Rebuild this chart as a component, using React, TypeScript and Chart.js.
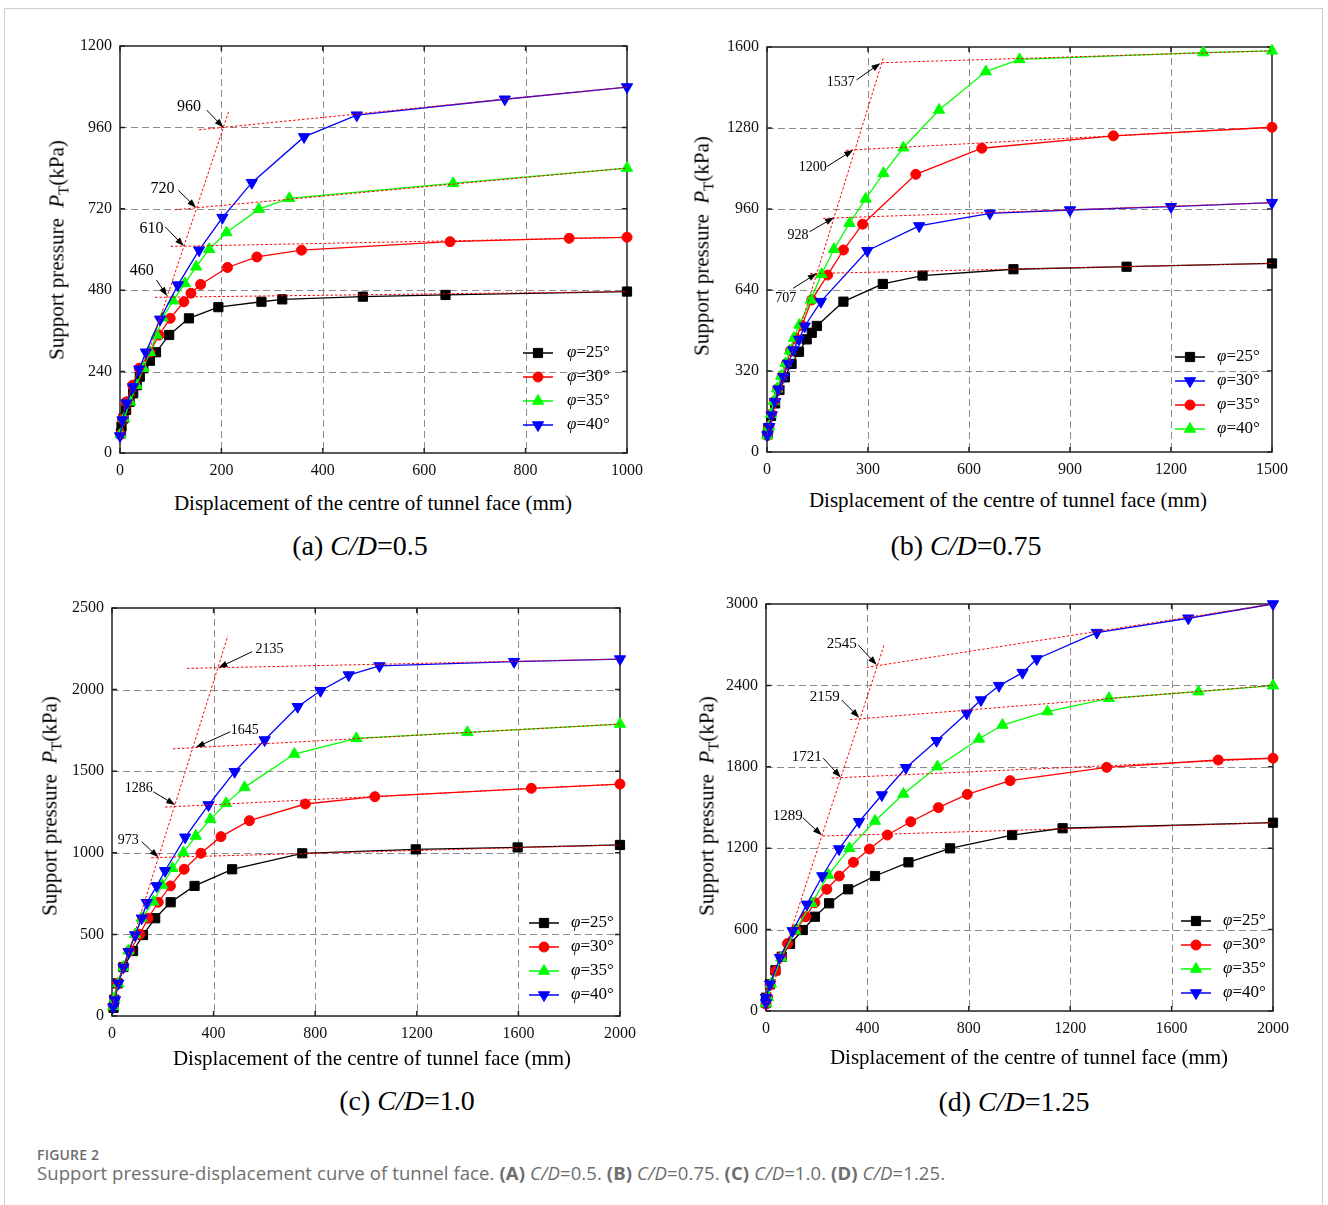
import React, { useEffect, useRef } from "react";
import { Chart, registerables } from "chart.js";

Chart.register(...registerables);

type Pt = [number, number];
type Note = { text: string; at: Pt; from: Pt; to: Pt };

const SERIF = '"Liberation Serif", "Times New Roman", serif';
const SANS = '"Open Sans", "Noto Sans", sans-serif';

// ---------- (a) C/D = 0.5 ----------
const xTicksA = [0, 200, 400, 600, 800, 1000];
const yTicksA = [0, 240, 480, 720, 960, 1200];
const a25: Pt[] = [[2, 58], [3, 78], [7, 102], [12, 127], [19, 151], [26, 176], [33, 200], [39, 225], [46, 250], [59, 272], [71, 297], [97, 348], [136, 397], [194, 430], [279, 446], [320, 453], [479, 461], [642, 466], [1000, 476]];
const a30: Pt[] = [[1, 55], [5, 100], [12, 150], [25, 200], [38, 250], [59, 297], [77, 348], [99, 397], [126, 446], [140, 471], [159, 497], [212, 547], [270, 578], [358, 598], [651, 623], [886, 633], [1000, 636]];
const a35: Pt[] = [[1, 55], [8, 102], [20, 151], [33, 200], [46, 250], [59, 297], [72, 348], [84, 399], [105, 449], [128, 500], [150, 549], [176, 601], [210, 650], [274, 719], [334, 751], [657, 795], [1000, 840]];
const a40: Pt[] = [[0, 50], [5, 97], [13, 147], [26, 195], [38, 247], [51, 297], [79, 394], [114, 495], [156, 598], [202, 694], [260, 797], [363, 932], [467, 996], [759, 1043], [1000, 1079]];
const guidesA: Pt[][] = [
  [[0, 42], [215, 1010]],
  [[156, 953], [1000, 1079]],
  [[108, 717], [1000, 840]],
  [[100, 609], [1000, 636]],
  [[69, 459], [1000, 476]],
];
const notesA: Note[] = [
  { text: "960", at: [136, 1021], from: [171, 1011], to: [204, 960] },
  { text: "720", at: [84, 780], from: [115, 775], to: [150, 723] },
  { text: "610", at: [62, 662], from: [89, 667], to: [126, 610] },
  { text: "460", at: [43, 537], from: [72, 510], to: [93, 463] },
];

// ---------- (b) C/D = 0.75 ----------
const xTicksB = [0, 300, 600, 900, 1200, 1500];
const yTicksB = [0, 320, 640, 960, 1280, 1600];
const b25: Pt[] = [[2, 70], [4, 94], [12, 142], [24, 192], [37, 245], [53, 295], [73, 348], [95, 396], [118, 445], [133, 471], [148, 498], [227, 594], [344, 664], [462, 697], [732, 722], [1068, 732], [1500, 745]];
const b30: Pt[] = [[1, 67], [7, 100], [14, 146], [24, 199], [34, 248], [49, 297], [63, 350], [78, 403], [95, 445], [112, 497], [160, 594], [298, 795], [452, 893], [662, 943], [900, 956], [1200, 969], [1500, 985]];
const b35: Pt[] = [[1, 65], [6, 100], [13, 150], [22, 200], [32, 250], [45, 300], [58, 350], [70, 400], [85, 450], [104, 500], [133, 601], [180, 699], [227, 798], [284, 900], [442, 1097], [638, 1200], [1029, 1249], [1500, 1283]];
const b40: Pt[] = [[1, 65], [6, 100], [12, 150], [20, 200], [30, 250], [42, 300], [55, 350], [68, 400], [80, 450], [96, 502], [130, 601], [162, 702], [199, 801], [245, 904], [293, 1000], [346, 1101], [405, 1202], [511, 1351], [650, 1503], [750, 1551], [1296, 1578], [1500, 1585]];
const guidesB: Pt[][] = [
  [[0, 68], [346, 1559]],
  [[341, 1538], [1500, 1585]],
  [[235, 1192], [1500, 1283]],
  [[167, 923], [1500, 985]],
  [[128, 705], [1500, 745]],
];
const notesB: Note[] = [
  { text: "1537", at: [219, 1460], from: [266, 1470], to: [337, 1536] },
  { text: "1200", at: [136, 1125], from: [177, 1127], to: [256, 1193] },
  { text: "928", at: [92, 857], from: [126, 870], to: [199, 926] },
  { text: "707", at: [56, 608], from: [78, 647], to: [148, 706] },
];

// ---------- (c) C/D = 1.0 ----------
const xTicksC = [0, 400, 800, 1200, 1600, 2000];
const yTicksC = [0, 500, 1000, 1500, 2000, 2500];
const c25: Pt[] = [[6, 50], [9, 100], [22, 200], [45, 300], [83, 398], [122, 496], [170, 599], [231, 697], [325, 797], [473, 899], [749, 997], [1196, 1021], [1597, 1033], [2000, 1048]];
const c30: Pt[] = [[5, 60], [10, 100], [22, 200], [45, 300], [70, 400], [110, 501], [142, 599], [182, 697], [230, 797], [284, 899], [350, 997], [429, 1099], [541, 1197], [761, 1299], [1035, 1344], [1651, 1395], [2000, 1421]];
const c35: Pt[] = [[5, 60], [10, 110], [25, 200], [45, 300], [65, 400], [91, 500], [117, 600], [163, 700], [198, 803], [238, 905], [281, 1001], [330, 1103], [387, 1205], [449, 1303], [522, 1401], [718, 1605], [962, 1701], [1399, 1738], [2000, 1789]];
const c40: Pt[] = [[5, 55], [12, 98], [25, 200], [45, 298], [65, 394], [91, 496], [117, 599], [137, 694], [176, 797], [209, 890], [288, 1095], [380, 1293], [483, 1497], [601, 1691], [731, 1895], [821, 1993], [932, 2089], [1053, 2145], [1583, 2171], [2000, 2187]];
const guidesC: Pt[][] = [
  [[0, 63], [456, 2329]],
  [[295, 2130], [2000, 2187]],
  [[240, 1637], [2000, 1789]],
  [[209, 1280], [2000, 1421]],
  [[154, 970], [2000, 1048]],
];
const notesC: Note[] = [
  { text: "2135", at: [620, 2247], from: [551, 2232], to: [419, 2134] },
  { text: "1645", at: [523, 1749], from: [466, 1742], to: [330, 1646] },
  { text: "1286", at: [105, 1392], from: [163, 1374], to: [249, 1293] },
  { text: "973", at: [64, 1078], from: [117, 1068], to: [183, 972] },
];

// ---------- (d) C/D = 1.25 ----------
const xTicksD = [0, 400, 800, 1200, 1600, 2000];
const yTicksD = [0, 600, 1200, 1800, 2400, 3000];
const d25: Pt[] = [[0, 60], [0, 98], [16, 197], [37, 300], [62, 400], [95, 494], [145, 597], [193, 695], [249, 794], [324, 897], [430, 995], [562, 1096], [726, 1199], [971, 1297], [1170, 1347], [2000, 1388]];
const d30: Pt[] = [[0, 50], [7, 100], [16, 192], [38, 295], [62, 400], [85, 497], [118, 600], [157, 695], [193, 798], [240, 897], [289, 995], [345, 1096], [408, 1194], [479, 1297], [571, 1395], [680, 1499], [794, 1597], [963, 1698], [1344, 1796], [1784, 1850], [2000, 1863]];
const d35: Pt[] = [[0, 55], [8, 100], [20, 200], [60, 393], [115, 592], [180, 794], [246, 1002], [329, 1199], [430, 1400], [542, 1600], [676, 1801], [840, 2005], [933, 2108], [1110, 2207], [1353, 2305], [1706, 2354], [2000, 2398]];
const d40: Pt[] = [[0, 60], [0, 98], [16, 197], [55, 393], [105, 590], [161, 786], [222, 995], [288, 1194], [367, 1395], [457, 1592], [552, 1793], [673, 1992], [792, 2194], [848, 2292], [919, 2398], [1012, 2494], [1068, 2595], [1305, 2789], [1666, 2895], [2000, 3000]];
const guidesD: Pt[][] = [
  [[0, 28], [467, 2704]],
  [[397, 2533], [2000, 3000]],
  [[331, 2148], [2000, 2400]],
  [[259, 1717], [2000, 1863]],
  [[224, 1290], [2000, 1388]],
];
const notesD: Note[] = [
  { text: "2545", at: [299, 2704], from: [364, 2698], to: [437, 2550] },
  { text: "2159", at: [232, 2314], from: [299, 2292], to: [368, 2162] },
  { text: "1721", at: [161, 1869], from: [226, 1863], to: [295, 1722] },
  { text: "1289", at: [86, 1439], from: [145, 1425], to: [220, 1295] },
];

// Marker / line styles
const BLACK_SQ = { color: "#000000", pointStyle: "rect", radius: 6.5, rotation: 0 };
const RED_CIRC = { color: "#ff0000", pointStyle: "circle", radius: 5, rotation: 0 };
const GREEN_TRI = { color: "#00ff00", pointStyle: "triangle", radius: 6.5, rotation: 0 };
const BLUE_TRI = { color: "#0000ff", pointStyle: "triangle", radius: 6.5, rotation: 180 };

const panels = [
  {
    id: "a", tag: "(a)", ratio: "0.5",
    box: { l: 120, t: 46, r: 627, b: 453 },
    xTicks: xTicksA, yTicks: yTicksA,
    series: [
      { phi: 25, pts: a25, style: BLACK_SQ, z: 4 },
      { phi: 30, pts: a30, style: RED_CIRC, z: 3 },
      { phi: 35, pts: a35, style: GREEN_TRI, z: 2 },
      { phi: 40, pts: a40, style: BLUE_TRI, z: 1 },
    ],
    guides: guidesA, notes: notesA, noteSize: 16,
    legend: { lineStart: 104, textStart: 60, firstRow: 100, step: 24 },
    xTitle: [373, 503], yTitle: [57, 250], title: [360, 546],
  },
  {
    id: "b", tag: "(b)", ratio: "0.75",
    box: { l: 767, t: 47, r: 1272, b: 452 },
    xTicks: xTicksB, yTicks: yTicksB,
    series: [
      { phi: 25, pts: b25, style: BLACK_SQ, z: 4 },
      { phi: 30, pts: b30, style: BLUE_TRI, z: 1 },
      { phi: 35, pts: b35, style: RED_CIRC, z: 3 },
      { phi: 40, pts: b40, style: GREEN_TRI, z: 2 },
    ],
    guides: guidesB, notes: notesB, noteSize: 14,
    legend: { lineStart: 97, textStart: 55, firstRow: 95, step: 24 },
    xTitle: [1008, 500], yTitle: [702, 246], title: [966, 546],
  },
  {
    id: "c", tag: "(c)", ratio: "1.0",
    box: { l: 112, t: 608, r: 620, b: 1016 },
    xTicks: xTicksC, yTicks: yTicksC,
    series: [
      { phi: 25, pts: c25, style: BLACK_SQ, z: 4 },
      { phi: 30, pts: c30, style: RED_CIRC, z: 3 },
      { phi: 35, pts: c35, style: GREEN_TRI, z: 2 },
      { phi: 40, pts: c40, style: BLUE_TRI, z: 1 },
    ],
    guides: guidesC, notes: notesC, noteSize: 14,
    legend: { lineStart: 91, textStart: 49, firstRow: 93, step: 24 },
    xTitle: [372, 1058], yTitle: [50, 806], title: [407, 1101],
  },
  {
    id: "d", tag: "(d)", ratio: "1.25",
    box: { l: 766, t: 604, r: 1273, b: 1011 },
    xTicks: xTicksD, yTicks: yTicksD,
    series: [
      { phi: 25, pts: d25, style: BLACK_SQ, z: 4 },
      { phi: 30, pts: d30, style: RED_CIRC, z: 3 },
      { phi: 35, pts: d35, style: GREEN_TRI, z: 2 },
      { phi: 40, pts: d40, style: BLUE_TRI, z: 1 },
    ],
    guides: guidesD, notes: notesD, noteSize: 15,
    legend: { lineStart: 92, textStart: 50, firstRow: 90, step: 24 },
    xTitle: [1029, 1057], yTitle: [707, 806], title: [1014, 1102],
  },
];

const PAD_L = 60, PAD_T = 22, PAD_R = 30, PAD_B = 30;

function drawMarker(ctx: CanvasRenderingContext2D, st: any, x: number, y: number) {
  ctx.fillStyle = st.color;
  ctx.strokeStyle = st.color;
  ctx.lineWidth = 1;
  ctx.beginPath();
  if (st.pointStyle === "rect") {
    const s = st.radius * Math.SQRT1_2;
    ctx.rect(x - s, y - s, 2 * s, 2 * s);
  } else if (st.pointStyle === "circle") {
    ctx.arc(x, y, st.radius, 0, Math.PI * 2);
  } else {
    let a = (st.rotation * Math.PI) / 180;
    for (let i = 0; i < 3; i++) {
      const px = x + Math.sin(a) * st.radius;
      const py = y - Math.cos(a) * st.radius;
      if (i === 0) ctx.moveTo(px, py);
      else ctx.lineTo(px, py);
      a += (2 * Math.PI) / 3;
    }
    ctx.closePath();
  }
  ctx.fill();
  ctx.stroke();
}

const decorPlugin = {
  id: "decor",
  beforeDatasetsDraw(chart: any, _args: any, opts: any) {
    const { ctx, chartArea: a, scales } = chart;
    const xs = scales.x, ys = scales.y;
    ctx.save();
    // dashed grid
    ctx.strokeStyle = "#8c8c8c";
    ctx.lineWidth = 1;
    ctx.setLineDash([7, 4]);
    opts.xTicks.forEach((v: number) => {
      if (v <= xs.min || v >= xs.max) return;
      const px = Math.round(xs.getPixelForValue(v)) + 0.5;
      ctx.beginPath(); ctx.moveTo(px, a.top); ctx.lineTo(px, a.bottom); ctx.stroke();
    });
    opts.yTicks.forEach((v: number) => {
      if (v <= ys.min || v >= ys.max) return;
      const py = Math.round(ys.getPixelForValue(v)) + 0.5;
      ctx.beginPath(); ctx.moveTo(a.left, py); ctx.lineTo(a.right, py); ctx.stroke();
    });
    ctx.setLineDash([]);
    // frame and inward ticks
    ctx.strokeStyle = "#222";
    ctx.lineWidth = 1.5;
    ctx.strokeRect(a.left, a.top, a.right - a.left, a.bottom - a.top);
    opts.xTicks.forEach((v: number) => {
      const px = xs.getPixelForValue(v);
      ctx.beginPath();
      ctx.moveTo(px, a.bottom); ctx.lineTo(px, a.bottom - 5);
      ctx.moveTo(px, a.top); ctx.lineTo(px, a.top + 5);
      ctx.stroke();
    });
    opts.yTicks.forEach((v: number) => {
      const py = ys.getPixelForValue(v);
      ctx.beginPath();
      ctx.moveTo(a.left, py); ctx.lineTo(a.left + 5, py);
      ctx.moveTo(a.right, py); ctx.lineTo(a.right - 5, py);
      ctx.stroke();
    });
    ctx.restore();
  },
  afterDatasetsDraw(chart: any, _args: any, opts: any) {
    const { ctx, chartArea: a, scales } = chart;
    const xs = scales.x, ys = scales.y;
    ctx.save();
    // value notes with arrows
    opts.notes.forEach((n: Note) => {
      const sx = xs.getPixelForValue(n.from[0]), sy = ys.getPixelForValue(n.from[1]);
      const ex = xs.getPixelForValue(n.to[0]), ey = ys.getPixelForValue(n.to[1]);
      const ang = Math.atan2(ey - sy, ex - sx);
      const hl = 9, hw = 3.2;
      ctx.strokeStyle = "#000";
      ctx.fillStyle = "#000";
      ctx.lineWidth = 1;
      ctx.beginPath();
      ctx.moveTo(sx, sy);
      ctx.lineTo(ex - Math.cos(ang) * hl * 0.8, ey - Math.sin(ang) * hl * 0.8);
      ctx.stroke();
      ctx.beginPath();
      ctx.moveTo(ex, ey);
      ctx.lineTo(ex - Math.cos(ang) * hl - Math.sin(ang) * hw, ey - Math.sin(ang) * hl + Math.cos(ang) * hw);
      ctx.lineTo(ex - Math.cos(ang) * hl + Math.sin(ang) * hw, ey - Math.sin(ang) * hl - Math.cos(ang) * hw);
      ctx.closePath();
      ctx.fill();
      ctx.font = `${opts.noteSize}px ${SERIF}`;
      ctx.textAlign = "center";
      ctx.textBaseline = "middle";
      ctx.fillText(n.text, xs.getPixelForValue(n.at[0]), ys.getPixelForValue(n.at[1]));
    });
    // legend inside the plot
    const lg = opts.legend;
    opts.series.forEach((s: any, i: number) => {
      const y = a.bottom - lg.firstRow + i * lg.step;
      const x0 = a.right - lg.lineStart;
      ctx.strokeStyle = s.style.color;
      ctx.lineWidth = 1.5;
      ctx.beginPath(); ctx.moveTo(x0, y); ctx.lineTo(x0 + 30, y); ctx.stroke();
      drawMarker(ctx, s.style, x0 + 15, y);
      ctx.fillStyle = "#000";
      ctx.textAlign = "left";
      ctx.textBaseline = "middle";
      const tx = a.right - lg.textStart;
      ctx.font = `italic 17px ${SERIF}`;
      ctx.fillText("\u03c6", tx, y);
      const w = ctx.measureText("\u03c6").width;
      ctx.font = `17px ${SERIF}`;
      ctx.fillText(`=${s.phi}\u00b0`, tx + w, y);
    });
    ctx.restore();
  },
};

function Panel({ p }: { p: any }) {
  const ref = useRef<HTMLCanvasElement>(null);
  const W = p.box.r - p.box.l + PAD_L + PAD_R;
  const H = p.box.b - p.box.t + PAD_T + PAD_B;
  useEffect(() => {
    if (!ref.current) return;
    const guideSets = p.guides.map((g: Pt[]) => ({
      data: g.map(([x, y]) => ({ x, y })),
      showLine: true,
      borderColor: "#ff0000",
      borderWidth: 1,
      borderDash: [2.5, 2],
      pointRadius: 0,
      order: 0,
    }));
    const seriesSets = p.series.map((s: any) => ({
      data: s.pts.map(([x, y]: Pt) => ({ x, y })),
      showLine: true,
      borderColor: s.style.color,
      backgroundColor: s.style.color,
      borderWidth: 1.3,
      pointStyle: s.style.pointStyle,
      pointRadius: s.style.radius,
      pointRotation: s.style.rotation,
      pointBorderWidth: 1,
      clip: false,
      order: s.z,
    }));
    const tickFont = { family: SERIF, size: 16 };
    const chart = new Chart(ref.current, {
      type: "scatter",
      data: { datasets: [...guideSets, ...seriesSets] },
      plugins: [decorPlugin],
      options: {
        animation: false,
        responsive: false,
        events: [],
        layout: { padding: { left: 0, top: PAD_T, right: PAD_R, bottom: 0 } },
        scales: {
          x: {
            type: "linear",
            min: p.xTicks[0],
            max: p.xTicks[p.xTicks.length - 1],
            afterBuildTicks: (s: any) => { s.ticks = p.xTicks.map((v: number) => ({ value: v })); },
            afterFit: (s: any) => { s.height = PAD_B; },
            ticks: { font: tickFont, color: "#111", padding: 8, maxRotation: 0, callback: (v: any) => String(v) },
            grid: { display: false, drawTicks: false },
            border: { display: false },
          },
          y: {
            type: "linear",
            min: p.yTicks[0],
            max: p.yTicks[p.yTicks.length - 1],
            afterBuildTicks: (s: any) => { s.ticks = p.yTicks.map((v: number) => ({ value: v })); },
            afterFit: (s: any) => { s.width = PAD_L; },
            ticks: { font: tickFont, color: "#111", padding: 8, callback: (v: any) => String(v) },
            grid: { display: false, drawTicks: false },
            border: { display: false },
          },
        },
        plugins: {
          legend: { display: false },
          tooltip: { enabled: false },
          decor: {
            xTicks: p.xTicks,
            yTicks: p.yTicks,
            notes: p.notes,
            noteSize: p.noteSize,
            legend: p.legend,
            series: p.series,
          },
        },
      } as any,
    });
    return () => chart.destroy();
  }, []);
  return (
    <canvas
      ref={ref}
      width={W}
      height={H}
      style={{ position: "absolute", left: p.box.l - PAD_L, top: p.box.t - PAD_T, width: W, height: H }}
    />
  );
}

const centered = (x: number, y: number, extra: any = {}) => ({
  position: "absolute" as const,
  left: x,
  top: y,
  transform: "translate(-50%, -50%)",
  whiteSpace: "nowrap" as const,
  lineHeight: 1,
  color: "#000",
  ...extra,
});

export default function App() {
  return (
    <div style={{ position: "absolute", left: 0, top: 0, width: 1328, height: 1205, background: "#fff", overflow: "hidden" }}>
      <div style={{ position: "absolute", left: 4, top: 8, width: 1319, height: 1230, border: "1px solid #cfcfcf", boxSizing: "border-box" }} />
      {panels.map((p) => (
        <React.Fragment key={p.id}>
          <Panel p={p} />
          <div style={centered(p.xTitle[0], p.xTitle[1], { font: `21px ${SERIF}` })}>
            Displacement of the centre of tunnel face (mm)
          </div>
          <div style={centered(p.yTitle[0], p.yTitle[1], { font: `21px ${SERIF}`, transform: "translate(-50%, -50%) rotate(-90deg)" })}>
            Support pressure&nbsp;&nbsp;<i>P</i>
            <span style={{ fontSize: "0.72em", position: "relative", top: "0.3em" }}>T</span>(kPa)
          </div>
          <div style={centered(p.title[0], p.title[1], { font: `28px ${SERIF}` })}>
            {p.tag} <i>C/D</i>={p.ratio}
          </div>
        </React.Fragment>
      ))}
      <div style={{ position: "absolute", left: 37, top: 1148, font: `600 14px ${SANS}`, color: "#6e6e6e", lineHeight: "14px", letterSpacing: 0.2 }}>
        FIGURE 2
      </div>
      <div style={{ position: "absolute", left: 37, top: 1162, font: `18.5px ${SANS}`, color: "#6e6e6e", lineHeight: "22px", whiteSpace: "nowrap", letterSpacing: 0.1 }}>
        Support pressure-displacement curve of tunnel face. <b>(A)</b> <i>C/D</i>=0.5. <b>(B)</b> <i>C/D</i>=0.75.{" "}
        <b>(C)</b> <i>C/D</i>=1.0. <b>(D)</b> <i>C/D</i>=1.25.
      </div>
    </div>
  );
}
